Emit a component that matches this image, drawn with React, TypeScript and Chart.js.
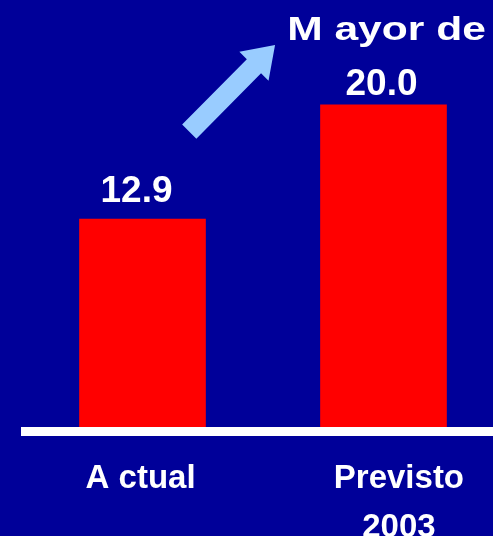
import React, { useEffect, useRef } from 'react';
import { Chart, registerables } from 'chart.js';

Chart.register(...registerables);

// ---- data ----
const categories: (string | string[])[] = ['A ctual', ['Previsto', '2003']];
const values: number[] = [12.9, 20.0];
const valueLabels: string[] = ['12.9', '20.0'];
const headline = 'M ayor de';

// ---- styling / layout ----
const BG = '#000099';
const BAR = '#FF0000';
const ARROW_COLOR = '#99CCFF';
const FONT = '"Liberation Sans", Arial, Helvetica, sans-serif';
const TICK_SHIFT = [-0.008, 0.064];
const VALUE_DX = [-6, -2];
const VALUE_GAP = [17, 10];
// arrow annotation, in data units
const ARROW = { from: { x: 0.194, y: 18.33 }, to: { x: 0.55, y: 23.71 }, shaft: 20, head: 41, headLen: 30 };

const overlay = {
  id: 'overlay',
  beforeDraw(chart: any) {
    const { ctx, width, height } = chart;
    ctx.save();
    ctx.fillStyle = BG;
    ctx.fillRect(0, 0, width, height);
    ctx.restore();
  },
  afterDatasetsDraw(chart: any) {
    const { ctx, chartArea, scales } = chart;
    const xs = scales.x;
    const ys = scales.y;
    const y0 = ys.getPixelForValue(0);
    ctx.save();
    // baseline
    ctx.fillStyle = '#FFFFFF';
    ctx.fillRect(chartArea.left - 1, y0, chartArea.right - chartArea.left + 1, 9);

    // value labels
    const meta = chart.getDatasetMeta(0);
    ctx.textAlign = 'center';
    ctx.textBaseline = 'alphabetic';
    ctx.font = `bold 37px ${FONT}`;
    meta.data.forEach((bar: any, i: number) => {
      ctx.fillText(valueLabels[i], bar.x + VALUE_DX[i], bar.y - VALUE_GAP[i]);
    });

    // headline above last bar
    const last = meta.data[meta.data.length - 1];
    ctx.save();
    ctx.translate(last.x + 3, last.y - 65);
    ctx.scale(1.29, 1);
    ctx.font = `bold 33px ${FONT}`;
    ctx.fillText(headline, 0, 0);
    ctx.restore();

    // arrow
    const tx = xs.getPixelForValue(ARROW.from.x);
    const ty = ys.getPixelForValue(ARROW.from.y);
    const hx = xs.getPixelForValue(ARROW.to.x);
    const hy = ys.getPixelForValue(ARROW.to.y);
    const dx = hx - tx;
    const dy = hy - ty;
    const len = Math.hypot(dx, dy);
    const ux = dx / len;
    const uy = dy / len;
    const nx = -uy;
    const ny = ux;
    const bx = hx - ux * ARROW.headLen;
    const by = hy - uy * ARROW.headLen;
    const s = ARROW.shaft / 2;
    const h = ARROW.head / 2;
    ctx.fillStyle = ARROW_COLOR;
    ctx.beginPath();
    ctx.moveTo(tx + nx * s, ty + ny * s);
    ctx.lineTo(bx + nx * s, by + ny * s);
    ctx.lineTo(bx + nx * h, by + ny * h);
    ctx.lineTo(hx, hy);
    ctx.lineTo(bx - nx * h, by - ny * h);
    ctx.lineTo(bx - nx * s, by - ny * s);
    ctx.lineTo(tx - nx * s, ty - ny * s);
    ctx.closePath();
    ctx.fill();
    ctx.restore();
  },
};

export default function App() {
  const ref = useRef<HTMLCanvasElement | null>(null);

  useEffect(() => {
    document.body.style.margin = '0';
    document.body.style.background = BG;
    const canvas = ref.current;
    if (!canvas) return;
    const chart = new Chart(canvas, {
      type: 'bar',
      data: {
        datasets: [
          {
            data: values.map((v, i) => ({ x: i, y: v })),
            backgroundColor: BAR,
            borderWidth: 0,
            barThickness: 126,
          },
        ],
      },
      options: {
        animation: false,
        responsive: false,
        maintainAspectRatio: false,
        devicePixelRatio: 1,
        layout: { padding: { left: 22, right: 0, top: 0, bottom: 0 } },
        plugins: { legend: { display: false }, tooltip: { enabled: false } },
        scales: {
          x: {
            type: 'linear',
            offset: false,
            min: -0.5,
            max: 1.4544,
            grid: { display: false, offset: false },
            border: { display: false },
            afterBuildTicks: (scale: any) => {
              scale.ticks = categories.map((_, i) => ({ value: i + TICK_SHIFT[i] }));
            },
            afterFit: (scale: any) => {
              scale.height = 109;
            },
            ticks: {
              padding: 19,
              color: '#FFFFFF',
              maxRotation: 0,
              autoSkip: false,
              font: { family: FONT, size: 33, weight: 'bold', lineHeight: 1.5 },
              callback: (_v: any, i: number) => categories[i],
            },
          },
          y: {
            display: false,
            min: 0,
            max: 26.5,
          },
        },
      } as any,
      plugins: [overlay],
    });
    return () => chart.destroy();
  }, []);

  return (
    <div style={{ width: 493, height: 536, background: BG }}>
      <canvas ref={ref} width={493} height={536} style={{ display: 'block' }} />
    </div>
  );
}
